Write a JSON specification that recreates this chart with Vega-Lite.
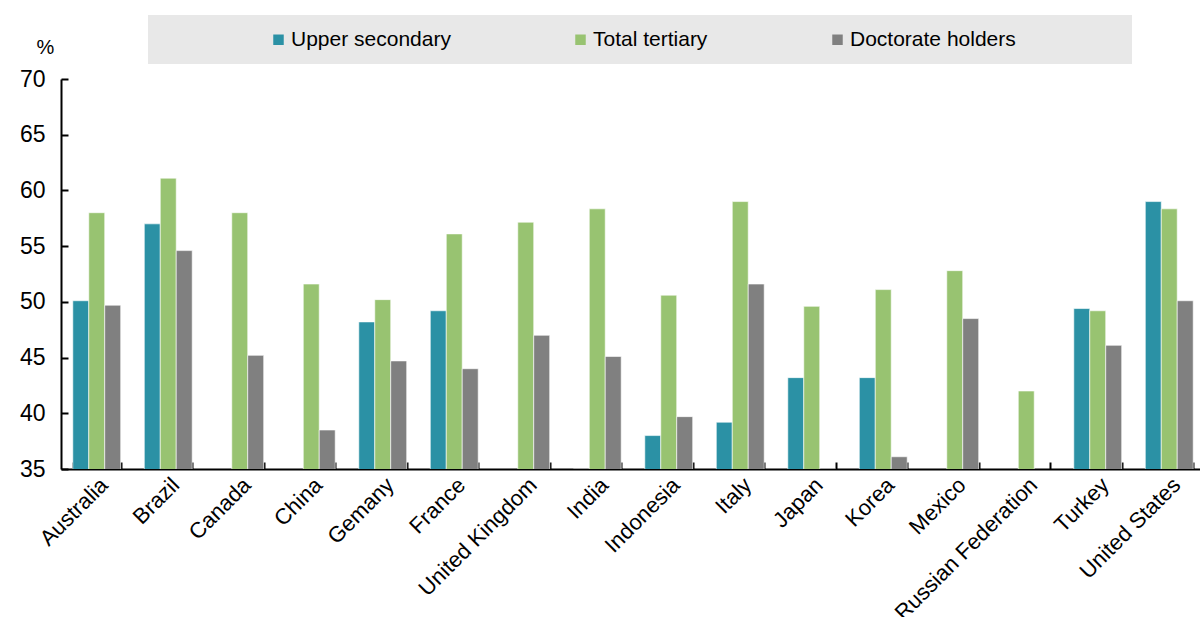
{
  "$schema": "https://vega.github.io/schema/vega-lite/v6.json",
  "width": 1139,
  "height": 390,
  "autosize": {"type": "none"},
  "padding": {"left": 61, "top": 79, "right": 0, "bottom": 148},
  "background": "white",
  "config": {"view": {"stroke": null}, "font": "Liberation Sans", "axis": {"grid": false}},
  "data": {"values": [
    {"country": "Australia", "level": "Upper secondary", "value": 50.1},
    {"country": "Australia", "level": "Total tertiary", "value": 58.0},
    {"country": "Australia", "level": "Doctorate holders", "value": 49.7},
    {"country": "Brazil", "level": "Upper secondary", "value": 57.0},
    {"country": "Brazil", "level": "Total tertiary", "value": 61.1},
    {"country": "Brazil", "level": "Doctorate holders", "value": 54.6},
    {"country": "Canada", "level": "Total tertiary", "value": 58.0},
    {"country": "Canada", "level": "Doctorate holders", "value": 45.2},
    {"country": "China", "level": "Total tertiary", "value": 51.6},
    {"country": "China", "level": "Doctorate holders", "value": 38.5},
    {"country": "Gemany", "level": "Upper secondary", "value": 48.2},
    {"country": "Gemany", "level": "Total tertiary", "value": 50.2},
    {"country": "Gemany", "level": "Doctorate holders", "value": 44.7},
    {"country": "France", "level": "Upper secondary", "value": 49.2},
    {"country": "France", "level": "Total tertiary", "value": 56.1},
    {"country": "France", "level": "Doctorate holders", "value": 44.0},
    {"country": "United Kingdom", "level": "Total tertiary", "value": 57.15},
    {"country": "United Kingdom", "level": "Doctorate holders", "value": 47.0},
    {"country": "India", "level": "Upper secondary", "value": 35.0},
    {"country": "India", "level": "Total tertiary", "value": 58.35},
    {"country": "India", "level": "Doctorate holders", "value": 45.1},
    {"country": "Indonesia", "level": "Upper secondary", "value": 38.0},
    {"country": "Indonesia", "level": "Total tertiary", "value": 50.6},
    {"country": "Indonesia", "level": "Doctorate holders", "value": 39.7},
    {"country": "Italy", "level": "Upper secondary", "value": 39.2},
    {"country": "Italy", "level": "Total tertiary", "value": 59.0},
    {"country": "Italy", "level": "Doctorate holders", "value": 51.6},
    {"country": "Japan", "level": "Upper secondary", "value": 43.2},
    {"country": "Japan", "level": "Total tertiary", "value": 49.6},
    {"country": "Japan", "level": "Doctorate holders", "value": 35.0},
    {"country": "Korea", "level": "Upper secondary", "value": 43.2},
    {"country": "Korea", "level": "Total tertiary", "value": 51.1},
    {"country": "Korea", "level": "Doctorate holders", "value": 36.1},
    {"country": "Mexico", "level": "Total tertiary", "value": 52.8},
    {"country": "Mexico", "level": "Doctorate holders", "value": 48.5},
    {"country": "Russian Federation", "level": "Total tertiary", "value": 42.0},
    {"country": "Turkey", "level": "Upper secondary", "value": 49.4},
    {"country": "Turkey", "level": "Total tertiary", "value": 49.2},
    {"country": "Turkey", "level": "Doctorate holders", "value": 46.1},
    {"country": "United States", "level": "Upper secondary", "value": 59.0},
    {"country": "United States", "level": "Total tertiary", "value": 58.35},
    {"country": "United States", "level": "Doctorate holders", "value": 50.1}
  ]},
  "mark": {"type": "bar", "clip": true, "stroke": "white", "strokeWidth": 0.6},
  "encoding": {
    "x": {
      "field": "country", "type": "nominal", "sort": null,
      "scale": {"range": [0, 1144], "paddingInner": 0.33, "paddingOuter": 0.165},
      "axis": {
        "title": null, "labelAngle": -45, "labelFontSize": 22, "labelColor": "black",
        "labelLimit": 400,
        "tickBand": "extent", "tickSize": -7, "tickWidth": 2, "tickColor": "black",
        "domainColor": "black", "domainWidth": 2, "labelPadding": 12
      }
    },
    "xOffset": {
      "field": "level", "type": "nominal",
      "sort": ["Upper secondary", "Total tertiary", "Doctorate holders"],
      "scale": {"paddingInner": 0, "paddingOuter": 0}
    },
    "y": {
      "field": "value", "type": "quantitative",
      "scale": {"domain": [35, 70], "zero": false, "nice": false},
      "axis": {
        "values": [35, 40, 45, 50, 55, 60, 65, 70],
        "labelFontSize": 23, "labelColor": "black",
        "tickSize": -7, "tickWidth": 2, "tickColor": "black",
        "domainColor": "black", "domainWidth": 2, "labelPadding": 23,
        "title": "%", "titleAngle": 0, "titleX": -16, "titleY": -32,
        "titleAlign": "center", "titleBaseline": "middle",
        "titleFontSize": 20, "titleFontWeight": "normal", "titleColor": "black"
      }
    },
    "color": {
      "field": "level", "type": "nominal",
      "sort": ["Upper secondary", "Total tertiary", "Doctorate holders"],
      "scale": {
        "domain": ["Upper secondary", "Total tertiary", "Doctorate holders"],
        "range": ["#2b91a5", "#98c371", "#808080"]
      },
      "legend": {
        "orient": "none", "legendX": 87, "legendY": -64, "direction": "horizontal",
        "fillColor": "#e8e8e8", "padding": 14, "symbolOffset": 106,
        "symbolType": "square", "symbolSize": 110, "symbolStrokeWidth": 0,
        "labelFontSize": 21, "labelColor": "black", "labelOffset": 2, "labelLimit": 400,
        "columnPadding": 13,
        "title": " ", "titleOrient": "right", "titlePadding": 102, "titleFontSize": 10
      }
    }
  }
}
